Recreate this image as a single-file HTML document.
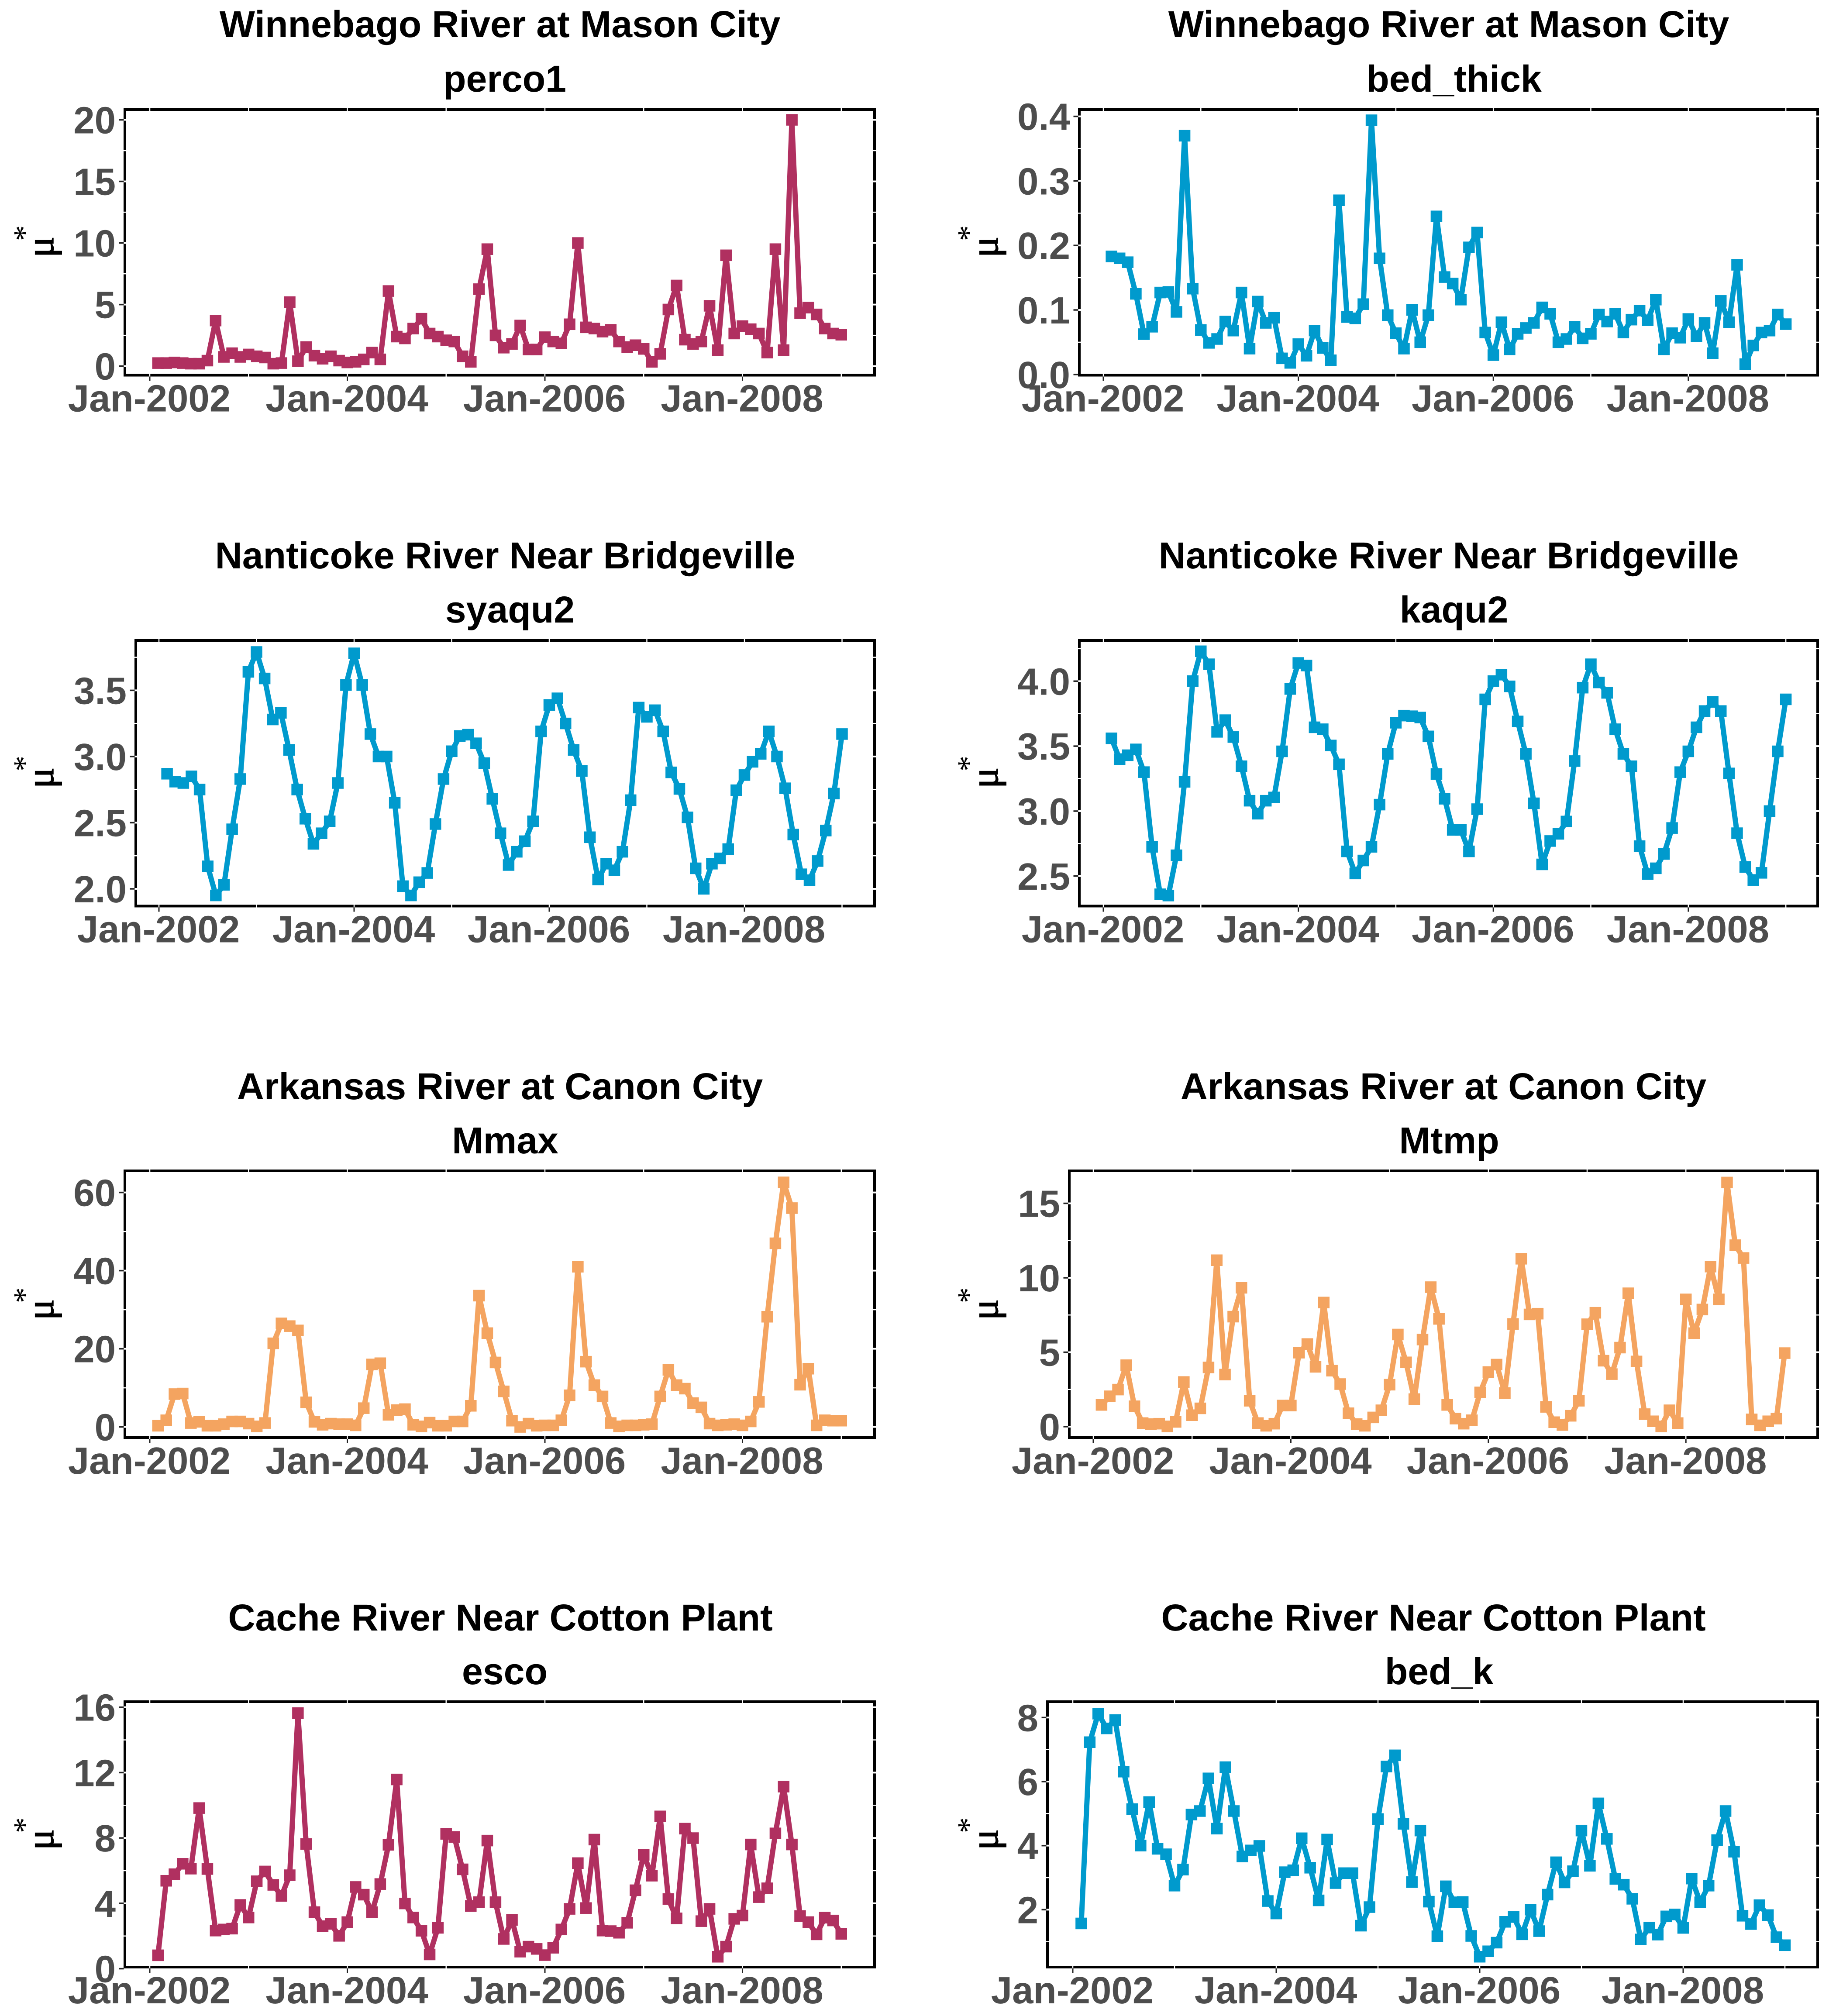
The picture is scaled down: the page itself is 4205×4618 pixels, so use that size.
<!DOCTYPE html>
<html lang="en">
<head>
<meta charset="utf-8">
<title>Monthly mu* sensitivity by river and parameter</title>
<style>
html,body{margin:0;padding:0;background:#fff;}
svg{display:block;text-rendering:geometricPrecision;}
.title{font:bold 86px "Liberation Sans",Arial,sans-serif;fill:#000;text-anchor:middle;}
.tick{font:bold 87px "Liberation Sans",Arial,sans-serif;fill:#4D4D4D;}
.mu{font:90px "Liberation Serif","DejaVu Serif",serif;fill:#000;stroke:#000;stroke-width:1.5px;}
.star{font:72px "Liberation Serif","DejaVu Serif",serif;fill:#000;}
</style>
</head>
<body>
<svg id="chart" xmlns="http://www.w3.org/2000/svg" width="4205" height="4618" viewBox="0 0 4205 4618">
<rect x="0" y="0" width="4205" height="4618" fill="#fff"/>

<text class="title" x="1145" y="85">Winnebago River at Mason City</text>
<text class="title" x="1156" y="210">perco1</text>
<text class="title" x="3318" y="85">Winnebago River at Mason City</text>
<text class="title" x="3330" y="210">bed_thick</text>

<text class="title" x="1157" y="1302">Nanticoke River Near Bridgeville</text>
<text class="title" x="1168" y="1426">syaqu2</text>
<text class="title" x="3318" y="1302">Nanticoke River Near Bridgeville</text>
<text class="title" x="3330" y="1426">kaqu2</text>

<text class="title" x="1145" y="2518">Arkansas River at Canon City</text>
<text class="title" x="1157" y="2642">Mmax</text>
<text class="title" x="3306" y="2518">Arkansas River at Canon City</text>
<text class="title" x="3319" y="2642">Mtmp</text>

<text class="title" x="1146" y="3735">Cache River Near Cotton Plant</text>
<text class="title" x="1156" y="3858">esco</text>
<text class="title" x="3283" y="3735">Cache River Near Cotton Plant</text>
<text class="title" x="3296" y="3858">bed_k</text>

<text class="mu" transform="translate(122,590) rotate(-90)">μ</text>
<text class="star" transform="translate(80,552) rotate(-90)">*</text>
<text class="mu" transform="translate(2285,590) rotate(-90)">μ</text>
<text class="star" transform="translate(2242,552) rotate(-90)">*</text>

<text class="mu" transform="translate(122,1806) rotate(-90)">μ</text>
<text class="star" transform="translate(80,1767) rotate(-90)">*</text>
<text class="mu" transform="translate(2285,1806) rotate(-90)">μ</text>
<text class="star" transform="translate(2242,1767) rotate(-90)">*</text>

<text class="mu" transform="translate(122,3024) rotate(-90)">μ</text>
<text class="star" transform="translate(80,2985) rotate(-90)">*</text>
<text class="mu" transform="translate(2285,3024) rotate(-90)">μ</text>
<text class="star" transform="translate(2242,2985) rotate(-90)">*</text>

<text class="mu" transform="translate(122,4238) rotate(-90)">μ</text>
<text class="star" transform="translate(80,4199) rotate(-90)">*</text>
<text class="mu" transform="translate(2285,4238) rotate(-90)">μ</text>
<text class="star" transform="translate(2242,4199) rotate(-90)">*</text>
</svg>

<script>
const months = ['2002-02','2002-03','2002-04','2002-05','2002-06','2002-07','2002-08','2002-09','2002-10','2002-11','2002-12','2003-01',
'2003-02','2003-03','2003-04','2003-05','2003-06','2003-07','2003-08','2003-09','2003-10','2003-11','2003-12','2004-01',
'2004-02','2004-03','2004-04','2004-05','2004-06','2004-07','2004-08','2004-09','2004-10','2004-11','2004-12','2005-01',
'2005-02','2005-03','2005-04','2005-05','2005-06','2005-07','2005-08','2005-09','2005-10','2005-11','2005-12','2006-01',
'2006-02','2006-03','2006-04','2006-05','2006-06','2006-07','2006-08','2006-09','2006-10','2006-11','2006-12','2007-01',
'2007-02','2007-03','2007-04','2007-05','2007-06','2007-07','2007-08','2007-09','2007-10','2007-11','2007-12','2008-01',
'2008-02','2008-03','2008-04','2008-05','2008-06','2008-07','2008-08','2008-09','2008-10','2008-11','2008-12','2009-01'];
const xTickLabels = ['Jan-2002','Jan-2004','Jan-2006','Jan-2008'];

const perco1Values = [0.25,0.25,0.3,0.25,0.2,0.2,0.45,3.7,0.75,1.05,0.75,0.95,0.8,0.7,0.2,0.25,5.2,0.4,1.55,0.85,0.6,0.8,0.45,0.3,0.35,0.55,1.1,0.55,6.1,2.4,2.25,3.05,3.85,2.65,2.4,2.1,2.0,0.8,0.35,6.25,9.5,2.5,1.5,1.8,3.3,1.35,1.35,2.35,2.0,1.85,3.4,10,3.15,3.05,2.8,2.95,2.0,1.55,1.7,1.4,0.35,1.0,4.6,6.55,2.15,1.8,2.0,4.9,1.3,9,2.65,3.25,3.0,2.65,1.1,9.5,1.3,20,4.3,4.75,4.2,3.05,2.65,2.55];
const perco1Ticks = ['0','5','10','15','20'];

const bedThickValues = [0.183,0.18,0.174,0.125,0.0625,0.074,0.127,0.128,0.097,0.37,0.133,0.069,0.049,0.055,0.082,0.068,0.127,0.04,0.113,0.08,0.088,0.025,0.018,0.047,0.029,0.068,0.041,0.022,0.27,0.089,0.087,0.109,0.394,0.18,0.092,0.064,0.04,0.1,0.05,0.092,0.245,0.151,0.141,0.116,0.197,0.22,0.065,0.03,0.081,0.039,0.063,0.072,0.08,0.104,0.094,0.05,0.055,0.074,0.056,0.063,0.093,0.082,0.094,0.065,0.085,0.099,0.084,0.116,0.039,0.064,0.057,0.086,0.059,0.08,0.033,0.114,0.081,0.17,0.016,0.045,0.065,0.068,0.093,0.078];
const bedThickTicks = ['0.0','0.1','0.2','0.3','0.4'];

const syaqu2Values = [2.87,2.81,2.8,2.85,2.75,2.17,1.95,2.03,2.45,2.83,3.64,3.79,3.59,3.28,3.33,3.05,2.75,2.53,2.34,2.42,2.51,2.8,3.54,3.78,3.54,3.17,3.0,3.0,2.65,2.02,1.95,2.05,2.12,2.49,2.83,3.04,3.155,3.165,3.1,2.95,2.68,2.42,2.18,2.28,2.36,2.51,3.19,3.39,3.44,3.25,3.05,2.89,2.39,2.07,2.19,2.14,2.28,2.67,3.37,3.3,3.35,3.19,2.88,2.755,2.54,2.155,2.0,2.19,2.23,2.3,2.745,2.86,2.96,3.02,3.19,3.0,2.76,2.41,2.11,2.065,2.21,2.44,2.72,3.17];
const syaqu2Ticks = ['2.0','2.5','3.0','3.5'];

const kaqu2Values = [3.56,3.4,3.43,3.475,3.3,2.725,2.36,2.35,2.66,3.225,4.0,4.23,4.13,3.61,3.7,3.57,3.345,3.08,2.98,3.08,3.105,3.46,3.94,4.14,4.12,3.645,3.63,3.505,3.36,2.69,2.52,2.62,2.725,3.05,3.44,3.68,3.735,3.73,3.72,3.575,3.285,3.095,2.855,2.855,2.69,3.015,3.86,4.0,4.05,3.96,3.69,3.44,3.06,2.59,2.77,2.825,2.92,3.385,3.95,4.13,3.99,3.91,3.63,3.44,3.345,2.73,2.515,2.56,2.67,2.87,3.3,3.46,3.645,3.77,3.84,3.77,3.29,2.83,2.57,2.47,2.525,3.0,3.46,3.86];
const kaqu2Ticks = ['2.5','3.0','3.5','4.0'];

const mmaxValues = [0.3,1.7,8.4,8.55,1.0,1.3,0.3,0.3,0.7,1.4,1.4,0.85,0.15,1.0,21.4,26.5,25.8,24.7,6.3,1.3,0.55,0.85,0.7,0.7,0.4,4.8,16.0,16.3,3.1,4.3,4.55,0.55,0.15,1.1,0.3,0.3,1.4,1.4,5.4,33.6,24.0,16.5,9.1,1.6,0,0.85,0.3,0.4,0.4,1.7,8.1,41,16.7,10.7,7.8,1,0.15,0.4,0.4,0.55,0.7,7.8,14.6,10.7,9.8,6.1,5.0,0.85,0.4,0.55,0.7,0.4,1.4,6.4,28.2,47,62.6,56,10.8,14.9,0.4,1.7,1.6,1.6];
const mmaxTicks = ['0','20','40','60'];

const mtmpValues = [1.46,2.04,2.49,4.13,1.37,0.24,0.17,0.2,0.02,0.32,3.0,0.77,1.23,3.98,11.18,3.5,7.39,9.33,1.74,0.24,0.06,0.2,1.42,1.42,4.97,5.55,4.02,8.34,3.76,2.86,0.9,0.17,0.06,0.62,1.1,2.82,6.19,4.32,1.85,5.85,9.37,7.24,1.46,0.54,0.2,0.43,2.3,3.67,4.17,2.26,6.9,11.28,7.54,7.59,1.33,0.3,0.11,0.73,1.74,6.88,7.65,4.43,3.53,5.31,8.96,4.38,0.84,0.36,0.02,1.1,0.24,8.55,6.28,7.87,10.75,8.55,16.4,12.19,11.33,0.49,0.09,0.36,0.54,4.94];
const mtmpTicks = ['0','5','10','15'];

const escoValues = [0.82,5.38,5.78,6.42,6.12,9.83,6.1,2.33,2.4,2.45,3.9,3.13,5.35,5.95,5.13,4.45,5.72,15.64,7.63,3.46,2.6,2.74,2.01,2.85,5.0,4.53,3.46,5.18,7.58,11.58,3.99,3.13,2.32,0.87,2.5,8.25,8.06,6.08,3.83,4.07,7.84,4.07,1.82,2.98,1.04,1.35,1.21,0.83,1.28,2.4,3.66,6.46,3.71,7.9,2.33,2.3,2.2,2.81,4.8,6.97,5.69,9.32,4.26,3.08,8.57,7.99,2.91,3.66,0.73,1.35,3.05,3.25,7.6,4.38,4.92,8.28,11.14,7.6,3.22,2.85,2.1,3.12,2.95,2.13];
const escoTicks = ['0','4','8','12','16'];

const bedKValues = [1.57,7.23,8.12,7.66,7.92,6.31,5.14,4.0,5.36,3.9,3.73,2.75,3.25,4.97,5.08,6.1,4.53,6.45,5.08,3.66,3.85,3.99,2.27,1.88,3.17,3.23,4.23,3.31,2.29,4.19,2.83,3.14,3.14,1.5,2.08,4.83,6.47,6.82,4.68,2.86,4.47,2.25,1.17,2.73,2.23,2.24,1.18,0.53,0.7,0.97,1.62,1.77,1.23,2.0,1.33,2.47,3.48,2.85,3.2,4.47,3.37,5.32,4.21,2.96,2.78,2.34,1.07,1.44,1.22,1.79,1.85,1.43,2.97,2.23,2.75,4.17,5.08,3.81,1.81,1.55,2.14,1.83,1.14,0.89];
const bedKTicks = ['2','4','6','8'];

const maroon = '#B03060';
const skyBlue = '#009ACD';
const sandy = '#F4A460';

const svg = document.getElementById('chart');
const NS = 'http://www.w3.org/2000/svg';

function shape(parent, tag, attrs) {
  const el = document.createElementNS(NS, tag);
  for (const k in attrs) el.setAttribute(k, attrs[k]);
  parent.appendChild(el);
  return el;
}

function drawPanel(key, values, ticks, color, f) {
  const g = shape(svg, 'g', {});
  
  

  const monthPx = f.yearPx / 12;
  const xMonth = m => f.x2002 + monthPx * m;
  const xDate = d => xMonth((+d.slice(0, 4) - 2002) * 12 + (+d.slice(5, 7) - 1));
  const yVal = v => f.pxA + (v - f.valA) * (f.pxB - f.pxA) / (f.valB - f.valA);
  const valAt = p => f.valA + (p - f.pxA) * (f.valB - f.valA) / (f.pxB - f.pxA);

  const frame = shape(g, 'rect', {x: f.left, y: f.top, width: f.right - f.left, height: f.bottom - f.top, fill: '#fff', stroke: '#000', 'stroke-width': 6});
  
  

  const tickVals = ticks.map(parseFloat);
  const step = (tickVals[1] - tickVals[0]) / 2;
  const vLow = valAt(f.bottom), vHigh = valAt(f.top);
  for (let k = Math.ceil(vLow / step - 1e-6) - 1; k * step <= vHigh; k++) {
    const v = k * step;
    const y = yVal(v);
    if (y > f.bottom + 4 || y < f.top) continue;
    const isMajor = tickVals.some(t => Math.abs(t - v) < step / 100);
    if (y < f.bottom - 3) {
      const gapL = shape(g, 'rect', {x: f.left - 3.5, y: y - (isMajor ? 2 : 1.25), width: 7, height: isMajor ? 4 : 2.5, fill: '#fff'});
      
      
      const gapR = shape(g, 'rect', {x: f.right - 3.5, y: y - (isMajor ? 2 : 1.25), width: 7, height: isMajor ? 4 : 2.5, fill: '#fff'});
      
      
    }
  }

  for (let yr = 0; yr <= 7; yr++) {
    const x = xMonth(yr * 12);
    const gapT = shape(g, 'rect', {x: x - 1.25, y: f.top - 3.5, width: 2.5, height: 7, fill: '#fff'});
    
    
    const gapB = shape(g, 'rect', {x: x - 1.25, y: f.bottom - 3.5, width: 2.5, height: 7, fill: '#fff'});
    
    
  }

  ticks.forEach(label => {
    const v = parseFloat(label);
    const y = yVal(v);
    const t = shape(g, 'rect', {x: f.left - 13.5, y: y - 1.75, width: 11, height: 3.5, fill: '#222'});
    
    
    const lab = shape(g, 'text', {class: 'tick', x: f.left - 21, y: y + 31, 'text-anchor': 'end'});
    lab.textContent = label;
    
    
  });

  xTickLabels.forEach(label => {
    const yr = +label.slice(4);
    const x = xMonth((yr - 2002) * 12);
    const t = shape(g, 'rect', {x: x - 1.5, y: f.bottom + 3, width: 3, height: 10, fill: '#222'});
    
    
    const lab = shape(g, 'text', {class: 'tick', x: x - 1, y: f.bottom + 83, 'text-anchor': 'middle'});
    lab.textContent = label;
    
    
  });

  const pts = values.map((v, i) => xDate(months[i]).toFixed(2) + ',' + yVal(v).toFixed(2)).join(' ');
  const line = shape(g, 'polyline', {points: pts, fill: 'none', stroke: color, 'stroke-width': 12, 'stroke-linejoin': 'round'});
  
  

  values.forEach((v, i) => {
    const m = shape(g, 'rect', {x: xDate(months[i]) - 13.25, y: yVal(v) - 13.25, width: 26.5, height: 26.5, fill: color});
    
    
  });
}

drawPanel('perco1', perco1Values, perco1Ticks, maroon, {left: 286, right: 2003, top: 251, bottom: 859.5, x2002: 343, yearPx: 226.25, valA: 0, pxA: 838.7, valB: 20, pxB: 274.5});
drawPanel('bed-thick', bedThickValues, bedThickTicks, skyBlue, {left: 2472, right: 4163, top: 251, bottom: 859.5, x2002: 2527, yearPx: 223.3, valA: 0, pxA: 857.8, valB: 0.4, pxB: 266.6});
drawPanel('syaqu2', syaqu2Values, syaqu2Ticks, skyBlue, {left: 311, right: 2003, top: 1467, bottom: 2075.5, x2002: 364, yearPx: 223.5, valA: 2, pxA: 2036, valB: 3.5, pxB: 1581.4});
drawPanel('kaqu2', kaqu2Values, kaqu2Ticks, skyBlue, {left: 2472, right: 4163, top: 1467, bottom: 2075.5, x2002: 2527, yearPx: 223.3, valA: 2.5, pxA: 2006.8, valB: 4, pxB: 1560.3});
drawPanel('mmax', mmaxValues, mmaxTicks, sandy, {left: 286, right: 2003, top: 2682, bottom: 3293, x2002: 343, yearPx: 226.25, valA: 0, pxA: 3268.6, valB: 60, pxB: 2731.6});
drawPanel('mtmp', mtmpValues, mtmpTicks, sandy, {left: 2449, right: 4163, top: 2682, bottom: 3293, x2002: 2504, yearPx: 226.2, valA: 0, pxA: 3268, valB: 15, pxB: 2756.5});
drawPanel('esco', escoValues, escoTicks, maroon, {left: 286, right: 2003, top: 3898, bottom: 4506, x2002: 343, yearPx: 226.25, valA: 0, pxA: 4509.6, valB: 16, pxB: 3910.7});
drawPanel('bed-k', bedKValues, bedKTicks, skyBlue, {left: 2399, right: 4163, top: 3898, bottom: 4506, x2002: 2457, yearPx: 233, valA: 2, pxA: 4374.4, valB: 8, pxB: 3934.3});
</script>
</body>
</html>
